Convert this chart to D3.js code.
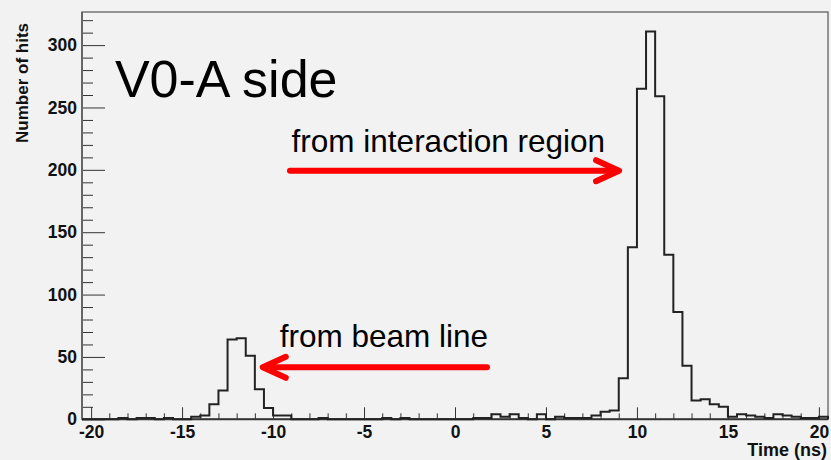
<!DOCTYPE html>
<html>
<head>
<meta charset="utf-8">
<script src="https://cdn.jsdelivr.net/npm/d3@7"></script>
<style>
	html, body { margin: 0; padding: 0; background: #f2f2f2; }
	svg { display: block; font-family: "Liberation Sans", Arial, sans-serif; }
</style>
</head>
<body>
<svg id="chart" width="831" height="460"></svg>
<script>
// histogram: 82 bins of 0.5 ns from -20.5 to 20.5
const binLow = -20.5;
const binWidth = 0.5;
const counts = [
	0, 0, 0, 0, 1, 0, 1, 1, 0, 1,
	0, 0, 2, 3, 12, 23, 64, 65, 51, 24,
	9, 3, 3, 0, 0, 0, 1, 0, 0, 0,
	0, 0, 0, 1, 0, 1, 0, 0, 0, 0,
	0, 0, 0, 1, 1, 4, 2, 4, 1, 0,
	4, 0, 2, 1, 1, 1, 3, 6, 7, 33,
	138, 265, 311, 259, 132, 86, 43, 15, 16, 12,
	10, 2, 4, 3, 2, 1, 4, 3, 2, 1,
	1, 2
];
const xMajorTicks = [-20, -15, -10, -5, 0, 5, 10, 15, 20];
const yMajorTicks = [0, 50, 100, 150, 200, 250, 300];

const svg = d3.select('#chart');
const margin = { top: 12, right: 3, bottom: 40.7, left: 82 };
const width = +svg.attr('width') - margin.left - margin.right;
const height = +svg.attr('height') - margin.top - margin.bottom;

const x = d3.scaleLinear().domain([-20.5, 20.5]).range([0, width]);
const y = d3.scaleLinear().domain([0, d3.max(counts) * 1.05]).range([height, 0]);

const g = svg.append('g').attr('transform', 'translate(' + margin.left + ',' + margin.top + ')');

// frame
g.append('rect')
	.attr('x', 0).attr('y', 0)
	.attr('width', width).attr('height', height)
	.attr('fill', 'none')
	.attr('stroke', '#555')
	.attr('stroke-width', 1.2);

// minor ticks
const yMinor = d3.range(0, 330, 10).filter((v) => v % 50 !== 0);
const xMinor = d3.range(-20, 21, 1).filter((v) => v % 5 !== 0);

g.append('g')
	.attr('class', 'axis')
	.call(d3.axisLeft(y).tickValues(yMinor).tickSize(-11).tickFormat(''));
g.append('g')
	.attr('class', 'axis')
	.attr('transform', 'translate(0,' + height + ')')
	.call(d3.axisBottom(x).tickValues(xMinor).tickSize(-6).tickFormat(''));

// major ticks + labels (plain hyphen minus, as in ROOT)
const plain = (d) => String(d);
g.append('g')
	.attr('class', 'axis axis--y')
	.call(d3.axisLeft(y).tickValues(yMajorTicks).tickSize(-23).tickPadding(5).tickFormat(plain));
g.append('g')
	.attr('class', 'axis axis--x')
	.attr('transform', 'translate(0,' + height + ')')
	.call(d3.axisBottom(x).tickValues(xMajorTicks).tickSize(-12).tickPadding(6).tickFormat(plain));

g.selectAll('.axis .domain').remove();
g.selectAll('.axis line').attr('stroke', '#333').attr('stroke-width', 1);
g.selectAll('.axis text')
	.attr('font-family', '"Liberation Sans", Arial, sans-serif')
	.attr('font-size', 17.5)
	.attr('font-weight', 'bold')
	.attr('fill', '#111');

// axis lines (thicker, like ROOT)
g.append('line')
	.attr('x1', 0).attr('x2', width)
	.attr('y1', height).attr('y2', height)
	.attr('stroke', '#333').attr('stroke-width', 2);
g.append('line')
	.attr('x1', 0).attr('x2', 0)
	.attr('y1', 0).attr('y2', height)
	.attr('stroke', '#666').attr('stroke-width', 2);

// histogram outline
const steps = [[binLow, 0]];
counts.forEach((c, i) => {
	let lo = binLow + i * binWidth;
	steps.push([lo, c]);
	steps.push([lo + binWidth, c]);
});
steps.push([binLow + counts.length * binWidth, 0]);

g.append('path')
	.datum(steps)
	.attr('fill', 'none')
	.attr('stroke', '#222')
	.attr('stroke-width', 2)
	.attr('d', d3.line().x((d) => x(d[0])).y((d) => y(d[1])));

// annotations
g.append('text')
	.attr('x', x(-18.69)).attr('y', y(258.6))
	.attr('font-size', 52)
	.attr('fill', '#000')
	.text('V0-A side');

g.append('text')
	.attr('x', x(-8.98)).attr('y', y(214.5))
	.attr('font-size', 31.5)
	.attr('fill', '#000')
	.text('from interaction region');

g.append('text')
	.attr('x', x(-9.63)).attr('y', y(58))
	.attr('font-size', 31.5)
	.attr('fill', '#000')
	.text('from beam line');

function arrow (x0, x1, yv) {
	let dir = x1 > x0 ? 1 : -1;
	let tx = x(x1), ty = y(yv);
	let a = g.append('g')
		.attr('fill', 'none')
		.attr('stroke', '#ff0000')
		.attr('stroke-width', 6)
		.attr('stroke-linecap', 'round')
		.attr('stroke-linejoin', 'round');
	a.append('line')
		.attr('x1', x(x0)).attr('y1', ty)
		.attr('x2', tx - dir * 3).attr('y2', ty);
	a.append('polyline')
		.attr('points', [[tx - dir * 24, ty - 10.5], [tx - dir * 1, ty], [tx - dir * 24, ty + 10.5]].join(' '));
}
arrow(-9.07, 9.07, 199.3);
arrow(1.76, -10.62, 41.7);

// axis titles
svg.append('text')
	.attr('x', 827).attr('y', 456)
	.attr('text-anchor', 'end')
	.attr('font-size', 18)
	.attr('font-weight', 'bold')
	.attr('fill', '#111')
	.text('Time (ns)');

svg.append('text')
	.attr('transform', 'translate(28,23) rotate(-90)')
	.attr('text-anchor', 'end')
	.attr('font-size', 17)
	.attr('font-weight', 'bold')
	.attr('fill', '#111')
	.text('Number of hits');
</script>
</body>
</html>
